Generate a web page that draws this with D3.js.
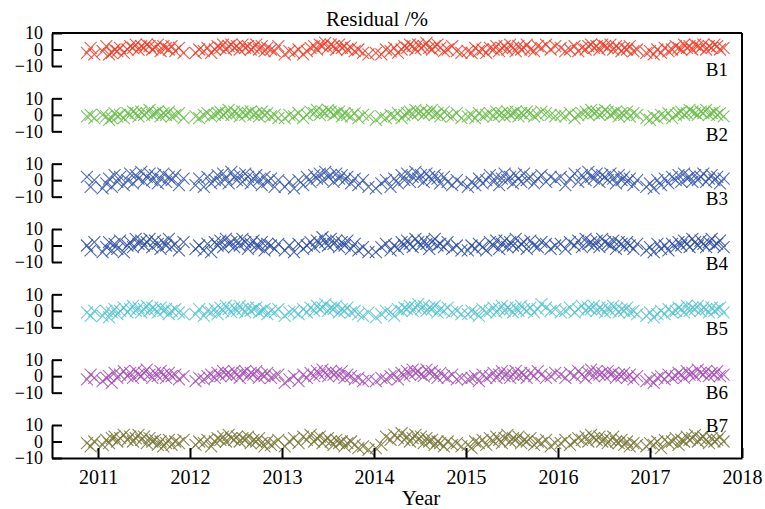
<!DOCTYPE html>
<html>
<head>
<meta charset="utf-8">
<script src="https://cdn.jsdelivr.net/npm/d3@7"></script>
<style>
  body { margin: 0; background: #fff; }
  svg { display: block; }
</style>
</head>
<body>
<svg width="765" height="509"></svg>
<script>
// observation times (decimal years)
const dates = [
  2010.88, 2010.92, 2010.96,
  2011.05, 2011.09, 2011.12, 2011.15, 2011.18, 2011.21, 2011.24, 2011.28, 2011.32, 2011.35, 2011.38, 2011.41, 2011.44, 2011.47, 2011.50, 2011.53, 2011.56, 2011.59, 2011.62, 2011.65, 2011.68, 2011.71, 2011.74, 2011.77, 2011.80, 2011.84, 2011.88, 2011.93,
  2012.06, 2012.10, 2012.15, 2012.19, 2012.23, 2012.27, 2012.30, 2012.33, 2012.36, 2012.39, 2012.42, 2012.45, 2012.48, 2012.51, 2012.54, 2012.57, 2012.60, 2012.63, 2012.66, 2012.69, 2012.72, 2012.75, 2012.78, 2012.81, 2012.84, 2012.88, 2012.92, 2012.96,
  2013.03, 2013.08, 2013.13, 2013.18, 2013.23, 2013.27, 2013.31, 2013.35, 2013.38, 2013.41, 2013.44, 2013.47, 2013.50, 2013.53, 2013.56, 2013.59, 2013.62, 2013.65, 2013.68, 2013.71, 2013.75, 2013.79, 2013.83, 2013.88, 2013.94,
  2014.02, 2014.08, 2014.13, 2014.18, 2014.22, 2014.26, 2014.30, 2014.33, 2014.36, 2014.39, 2014.42, 2014.45, 2014.48, 2014.51, 2014.54, 2014.57, 2014.60, 2014.63, 2014.66, 2014.69, 2014.72, 2014.76, 2014.80, 2014.85, 2014.90, 2014.95,
  2015.02, 2015.06, 2015.10, 2015.14, 2015.18, 2015.22, 2015.26, 2015.30, 2015.33, 2015.36, 2015.39, 2015.42, 2015.45, 2015.48, 2015.51, 2015.54, 2015.57, 2015.60, 2015.63, 2015.66, 2015.70, 2015.74, 2015.78, 2015.82, 2015.87, 2015.92, 2015.97,
  2016.03, 2016.08, 2016.13, 2016.18, 2016.22, 2016.26, 2016.30, 2016.33, 2016.36, 2016.39, 2016.42, 2016.45, 2016.48, 2016.51, 2016.54, 2016.57, 2016.60, 2016.63, 2016.66, 2016.69, 2016.72, 2016.75, 2016.78, 2016.82, 2016.86,
  2016.96, 2017.00, 2017.04, 2017.08, 2017.12, 2017.16, 2017.20, 2017.24, 2017.28, 2017.31, 2017.34, 2017.37, 2017.40, 2017.43, 2017.46, 2017.49, 2017.52, 2017.55, 2017.58, 2017.61, 2017.64, 2017.67, 2017.70, 2017.73, 2017.76, 2017.80
];

// residuals (%) per band, same order as dates
const b1 = [
  -2, 1, -3,
  -1, 2, -3, -2, 0, -1, 1, -2, 0, 2, 1, 3, 0, 2, 1, 3, 2, 0, 1, 3, -1, 2, 1, 0, 2, -1, 1, -2,
  -2, 0, -1, 1, -2, 0, 2, 1, 3, 0, 2, 3, 1, 2, 0, 3, 1, 2, 0, 1, 3, 0, 2, -1, 1, 0, -1, 2,
  -3, -1, -2, 0, -3, -1, 1, 2, 0, 3, 2, 4, 1, 3, 2, 0, 3, 1, 2, 0, 1, -1, 0, -2, -3,
  -2, -3, 0, -1, 1, -2, 0, 2, 1, 3, 2, 0, 3, 1, 2, 4, 1, 0, 2, 3, 1, -1, 0, 2, -1, -2,
  -1, -2, 1, -1, 0, -2, 1, 0, 2, -1, 1, 2, 0, 3, 1, -1, 2, 0, 1, 3, 0, -1, 2, 1, 3, 0, 2,
  1, -1, 0, 2, -1, 1, 0, 2, 3, 1, 2, 0, 3, 2, 1, 3, 0, 2, 1, -1, 1, 0, 2, -1, 0,
  -2, -1, -3, 0, -2, 1, -1, 0, 2, 1, 0, 3, 1, 2, 0, 3, 2, 1, 3, 0, 2, 1, 3, 2, 0, 1
];
const b2 = [
  -1, 0, -2,
  0, -1, -3, -2, 1, -1, 0, -2, 1, 0, 2, 1, -1, 2, 0, 1, 3, 0, 1, 2, -1, 1, 0, 2, -1, 0, 1, -2,
  -1, -2, 0, 1, -1, 0, 1, 2, 0, 1, 3, 0, 2, 1, -1, 2, 0, 1, 2, 0, 1, -1, 2, 0, 1, -1, 0, -2,
  -2, 0, -1, 1, -2, 0, 2, 1, 3, 0, 2, 1, 3, 2, 0, 1, 2, -1, 1, 0, -1, 1, -2, 0, -1,
  -3, -1, -2, 0, -1, 1, -2, 0, 1, 2, 0, 3, 1, 2, 0, 2, 1, 3, 0, 1, -1, 2, 0, -1, 1, -2,
  -1, 0, -2, 1, -1, 0, 1, -1, 2, 0, 1, -1, 2, 0, 1, 2, -1, 1, 0, 2, 1, -1, 0, 2, 1, 0, -1,
  0, -1, 1, -2, 0, 1, 2, 0, 3, 1, 2, 0, 1, 3, 2, 0, 1, 2, -1, 1, 0, 2, -1, 1, 0,
  -2, -3, -1, -2, 0, -1, 1, -2, 0, 1, 2, 0, 1, 3, 2, 1, 0, 2, 1, 3, 0, 1, 2, 0, 1, -1
];
const b3 = [
  2, -4, 0,
  -5, -2, 1, -4, 3, -1, 2, -3, 0, 4, -2, 3, 1, 5, -1, 2, 4, 0, 3, -2, 1, 4, -1, 2, 0, 3, -3, 1,
  -3, 1, -4, 2, -2, 0, 3, -1, 4, 1, -2, 5, 2, 0, 3, -1, 4, 2, -2, 1, 3, 0, -3, 2, -1, 1, -4, 0,
  -4, -1, -5, 0, -3, 2, -1, 3, 1, 4, 0, 5, 2, 3, -1, 4, 1, 3, 0, 2, -2, 1, -3, 0, -4,
  -5, -2, 0, -4, 1, -2, 3, 0, 4, -1, 2, 5, 1, 3, -1, 4, 2, 0, 3, 1, -2, 2, -1, -3, 0, -2,
  -4, -1, -3, 1, -2, 0, 3, -1, 2, -3, 1, 4, 0, 2, -2, 3, 1, -1, 4, 0, 2, -2, 1, 3, -1, 2, 0,
  2, -3, 1, 4, -1, 3, 0, 5, 2, 1, 4, -1, 3, 2, 0, 4, 1, -2, 3, 0, 2, -1, 1, -3, 0,
  -4, -2, -5, 0, -3, 1, -2, 2, 0, 3, -1, 4, 1, 2, -1, 3, 0, 2, 4, -1, 1, 3, 0, 2, -2, 1
];
const b4 = [
  0, -3, 2,
  -4, -1, 2, -3, 1, -2, 3, -4, 0, 2, -1, 4, 1, 3, 0, 2, 4, -1, 3, 1, -2, 2, 0, 4, -1, 1, -3, 2,
  -2, 0, -3, 1, -4, 2, 0, 3, -1, 4, 1, 2, -1, 3, 0, 4, 2, -2, 1, 3, 0, -1, 2, -3, 1, 0, -2, 1,
  -3, 0, -4, 1, -2, 0, 2, -1, 3, 1, 5, 2, 0, 4, 1, 3, -1, 2, 0, 3, -2, 1, -3, -1, -4,
  -4, -1, 1, -3, 0, -2, 2, 0, 3, 1, -1, 4, 2, 0, 3, 1, -2, 2, 4, 0, 1, -1, 2, -2, 0, -3,
  -3, 0, -2, 1, -1, -3, 2, 0, 3, -2, 1, 3, -1, 2, 0, 4, -1, 1, 2, -2, 3, 0, -1, 2, 1, -2, 0,
  1, -2, 2, 0, 3, -1, 4, 1, 2, 0, 3, -1, 4, 2, 1, 0, 3, -2, 2, 1, -1, 2, 0, -2, 1,
  -3, -1, -4, 1, -2, 0, -3, 1, -1, 2, 0, 3, 1, -1, 4, 2, 0, 3, 1, -1, 2, 4, 0, 1, 3, -1
];
const b5 = [
  -1, -3, 0,
  -3, 0, -4, -1, 1, -2, 0, 2, -1, 1, 3, 0, 2, -1, 1, 3, 0, 2, 1, -1, 2, 0, 1, -2, 0, 1, -1, -2,
  -2, 1, -3, 0, -1, 1, -2, 2, 0, 3, 1, -1, 2, 0, 3, 1, -1, 2, 0, 1, 2, -1, 0, 1, -2, 0, -1, 1,
  -3, -1, 0, -2, 1, -1, 2, 0, 3, 1, 2, 4, 0, 2, 1, 3, -1, 1, 0, 2, -1, 0, -2, -3, -1,
  -4, -2, 0, -1, -3, 1, 0, 2, 1, 3, 0, 2, 4, 1, 3, 0, 2, 1, 3, -1, 1, 0, 2, -1, 0, -2,
  -2, 0, -1, -3, 1, -1, 0, 2, -1, 1, 3, 0, 2, 1, -1, 2, 0, 3, 1, 0, 2, -1, 1, 4, 2, 0, 1,
  -1, 0, 2, -1, 1, 3, 0, 2, 1, 3, 0, 2, 1, -1, 2, 0, 3, 1, -1, 1, 0, 2, -1, 0, -2,
  -3, -1, -4, -2, 0, -2, 1, -1, 0, 2, 1, -1, 3, 0, 2, 1, 3, 0, 2, 1, -1, 2, 0, 1, 2, -1
];
const b6 = [
  -2, 1, -1,
  -3, -1, 0, -4, 2, -1, 1, 3, 0, 2, -1, 3, 1, 0, 2, 4, 1, -1, 2, 0, 3, 1, -1, 2, 0, 1, -2, 0,
  -3, -1, -2, 0, 1, -1, 2, 0, 3, 1, 2, 0, 3, 1, -1, 2, 3, 0, 2, 1, 3, -1, 1, 0, 2, -1, 0, 1,
  -4, -2, 0, -3, 1, -1, 2, 0, 3, 1, 4, 2, 0, 3, 1, 2, 0, 3, -1, 1, 0, -2, -1, -3, -2,
  -3, -1, -2, 0, 1, -2, 2, 0, 3, 1, 4, 2, 3, 1, 0, 4, 2, 3, 1, -1, 2, 0, -1, 1, -2, -1,
  -2, -1, 0, -3, 1, -1, 0, 2, -1, 1, 3, 0, 2, -1, 1, 3, 0, 2, 1, -1, 2, 0, 3, 1, -1, 0, 2,
  1, -1, 2, 0, 3, 1, -1, 2, 4, 0, 3, 1, 2, 0, 3, 1, 2, -1, 1, 0, 2, -1, 1, -2, 0,
  -3, -2, -4, -1, 0, -2, 1, -1, 0, 2, 1, -1, 3, 1, 2, 0, 4, 2, 1, 3, 0, 2, 1, 3, 0, 1
];
const b7 = [
  -1, -3, 0,
  -2, 1, -1, 2, 3, 0, 2, 4, 1, 3, 0, 2, 4, 1, 3, -1, 2, 0, 1, -2, 0, -3, -1, 1, -2, 0, -1, 1,
  -2, 0, -1, 1, -3, 0, 2, 1, 3, 0, 4, 2, 1, 3, 0, 2, 1, 3, -1, 1, 0, 2, -1, -3, 0, -2, -1, 1,
  -3, 0, 2, -1, 3, 1, 4, 0, 2, 3, -1, 1, 2, 0, -2, 1, -1, 0, -3, -1, 0, -2, -4, -3, -5,
  -4, -2, 3, 1, 4, 2, 5, 1, 3, 0, 2, 4, 1, 3, -1, 2, 0, 1, -2, 0, -1, -3, 0, -2, -1, -3,
  -2, -4, 0, -1, 1, -2, 2, 0, 3, 1, -1, 2, 4, 0, 2, 1, 3, -1, 1, 0, 2, -2, 0, -1, 1, -3, -1,
  -1, 1, -2, 0, 2, 1, 3, 0, 4, 2, 1, 3, 0, 2, -1, 1, 3, 0, -1, 1, -2, 0, -3, -1, -2,
  -3, -1, -2, 0, -4, 1, -1, 0, 2, -2, 1, 0, 3, 1, 2, 4, 0, 2, 3, 1, -1, 2, 0, 1, 3, 0
];

const bandNames = ["B1", "B2", "B3", "B4", "B5", "B6", "B7"];
const bandValues = [b1, b2, b3, b4, b5, b6, b7];
const bandColors = ["#f23a24", "#66bc46", "#3656ab", "#2c4ca2", "#55c3cf", "#a44fb3", "#777636"];
const xTicks = [2011, 2012, 2013, 2014, 2015, 2016, 2017, 2018];
const yTicks = [-10, 0, 10];

const svg = d3.select("svg");
const plotLeft = 52, plotRight = 742, plotTop = 33, plotBottom = 458, panelH = 33;
const serif = "'Liberation Serif', 'Times New Roman', serif";

const x = d3.scaleLinear().domain([2010.5, 2018]).range([plotLeft, plotRight]);
// top edge of each band's strip
const panelTop = d3.scalePoint().domain(bandNames).range([plotTop, plotBottom - panelH]);

// frame: top and right edges
svg.append("line").attr("x1", plotLeft).attr("x2", plotRight).attr("y1", plotTop).attr("y2", plotTop)
  .attr("stroke", "#000").attr("stroke-width", 2);
svg.append("line").attr("x1", plotRight).attr("x2", plotRight).attr("y1", plotTop).attr("y2", plotBottom)
  .attr("stroke", "#000").attr("stroke-width", 2);

bandNames.forEach((name, i) => {
  const t = panelTop(name);
  const y = d3.scaleLinear().domain([-10, 10]).range([t + panelH, t]);
  const pts = dates.map((d, j) => [d, bandValues[i][j]]).filter(p => p[1] !== undefined);

  svg.append("g").selectAll("path")
    .data(pts)
    .enter().append("path")
    .attr("transform", p => "translate(" + x(p[0]) + "," + y(p[1]) + ")")
    .attr("d", "M-6,-6L6,6M-6,6L6,-6")
    .attr("fill", "none")
    .attr("stroke", bandColors[i])
    .attr("stroke-width", 1.1)
    .attr("stroke-opacity", 0.85);

  // little y axis for this strip, ticks pointing inward
  const ax = svg.append("g").attr("transform", "translate(" + plotLeft + ",0)")
    .call(d3.axisLeft(y).tickValues(yTicks).tickSizeInner(-10).tickSizeOuter(0).tickPadding(9));
  ax.select(".domain").attr("stroke-width", 2);
  ax.selectAll(".tick line").attr("stroke-width", 2);
  ax.selectAll("text").attr("font-family", serif).attr("font-size", 18).attr("fill", "#000");

  svg.append("text")
    .attr("x", 728)
    .attr("y", i === 6 ? t + 7 : t + 43 - i * 0.7)
    .attr("text-anchor", "end")
    .attr("font-family", serif).attr("font-size", 19)
    .text(name);
});

// x axis along the bottom
const xa = svg.append("g").attr("transform", "translate(0," + plotBottom + ")")
  .call(d3.axisBottom(x).tickValues(xTicks).tickFormat(d3.format("d"))
    .tickSizeInner(-10).tickSizeOuter(0).tickPadding(12));
xa.select(".domain").attr("stroke-width", 2);
xa.selectAll(".tick line").attr("stroke-width", 2);
xa.selectAll("text").attr("font-family", serif).attr("font-size", 20).attr("fill", "#000");

svg.append("text").attr("x", 377).attr("y", 26).attr("text-anchor", "middle")
  .attr("font-family", serif).attr("font-size", 21).text("Residual /%");
svg.append("text").attr("x", 421).attr("y", 505).attr("text-anchor", "middle")
  .attr("font-family", serif).attr("font-size", 21).text("Year");
</script>
</body>
</html>
